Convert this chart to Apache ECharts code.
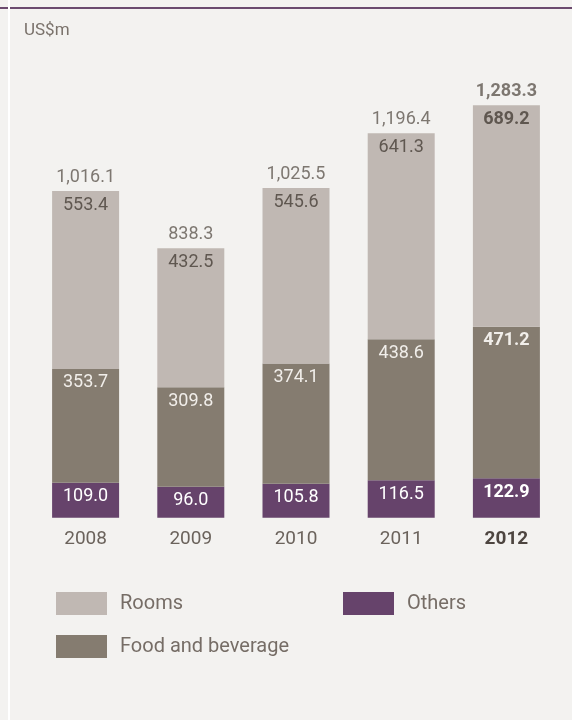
<!DOCTYPE html>
<html>
<head>
<meta charset="utf-8">
<script src="https://cdn.jsdelivr.net/npm/echarts@6/dist/echarts.min.js"></script>
<style>
html,body{margin:0;padding:0;background:#f3f2f0;}
#c{width:572px;height:720px;}
</style>
</head>
<body>
<div id="c"></div>
<script>
const years = ['2008','2009','2010','2011','2012'];
const others = [109.0, 96.0, 105.8, 116.5, 122.9];
const foodBeverage = [353.7, 309.8, 374.1, 438.6, 471.2];
const rooms = [553.4, 432.5, 545.6, 641.3, 689.2];
const totals = [1016.1, 838.3, 1025.5, 1196.4, 1283.3];
const unitLabel = 'US$m';

const FONT = 'Roboto';
const fmt = v => v.toLocaleString('en-US', {minimumFractionDigits:1, maximumFractionDigits:1});
const boldIdx = 4;

function items(arr){
  return arr.map((v,i)=> i===boldIdx ? {value:v, label:{fontWeight:'bold'}} : v);
}

const chart = echarts.init(document.getElementById('c'));
const labelBase = {show:true, position:'insideTop', distance:5, fontFamily:FONT, fontSize:18, lineHeight:18,
  formatter: p => fmt(p.value)};

chart.setOption({
  backgroundColor:'#f3f2f0',
  animation:false,
  graphic:[
    {type:'rect', shape:{x:0,y:7,width:572,height:2}, style:{fill:'#6b4a6e'}, z:10},
    {type:'rect', shape:{x:8,y:0,width:2,height:720}, style:{fill:'#ffffff'}, z:11},
    {type:'text', left:24, top:22, style:{text:unitLabel, fill:'#7a726b', font:'17px '+FONT}}
  ],
  grid:{left:33, right:13, top:67.7, bottom:202.3},
  legend:[
    {data:['Rooms'], left:51, top:587, itemWidth:51, itemHeight:23, icon:'rect', itemGap:0,
     textStyle:{color:'#766d66', fontSize:20, fontFamily:FONT, padding:[0,0,0,8]}},
    {data:['Others'], left:338, top:587, itemWidth:51, itemHeight:23, icon:'rect', itemGap:0,
     textStyle:{color:'#766d66', fontSize:20, fontFamily:FONT, padding:[0,0,0,8]}},
    {data:['Food and beverage'], left:51, top:630, itemWidth:51, itemHeight:23, icon:'rect', itemGap:0,
     textStyle:{color:'#766d66', fontSize:20, fontFamily:FONT, padding:[0,0,0,8]}}
  ],
  xAxis:{type:'category', data:years, axisLine:{show:false}, axisTick:{show:false},
    axisLabel:{margin:12, fontFamily:FONT, fontSize:19, color:'#6b635c',
      formatter:(v)=> v===years[boldIdx] ? '{b|'+v+'}' : v,
      rich:{b:{fontWeight:'bold', color:'#4d4540', fontFamily:FONT, fontSize:19}}}},
  yAxis:{type:'value', min:0, max:1400, show:false, splitLine:{show:false}},
  series:[
    {name:'Others', type:'bar', stack:'t', barWidth:67, data:items(others),
     itemStyle:{color:'#66436b'}, label:Object.assign({}, labelBase, {color:'#ffffff'})},
    {name:'Food and beverage', type:'bar', stack:'t', barWidth:67, data:items(foodBeverage),
     itemStyle:{color:'#857c70'}, label:Object.assign({}, labelBase, {color:'#f1eeea'})},
    {name:'Rooms', type:'bar', stack:'t', barWidth:67, data:items(rooms),
     itemStyle:{color:'#c0b8b3'}, label:Object.assign({}, labelBase, {color:'#5f5750'})},
    {name:'Total', type:'scatter', data:items(totals), symbolSize:2, silent:true,
     itemStyle:{color:'rgba(0,0,0,0)'},
     label:{show:true, position:'top', distance:4, fontFamily:FONT, fontSize:18, lineHeight:18, color:'#5f5750',
       formatter:p=>fmt(p.value)}, z:5}
  ]
});
</script>
</body>
</html>
